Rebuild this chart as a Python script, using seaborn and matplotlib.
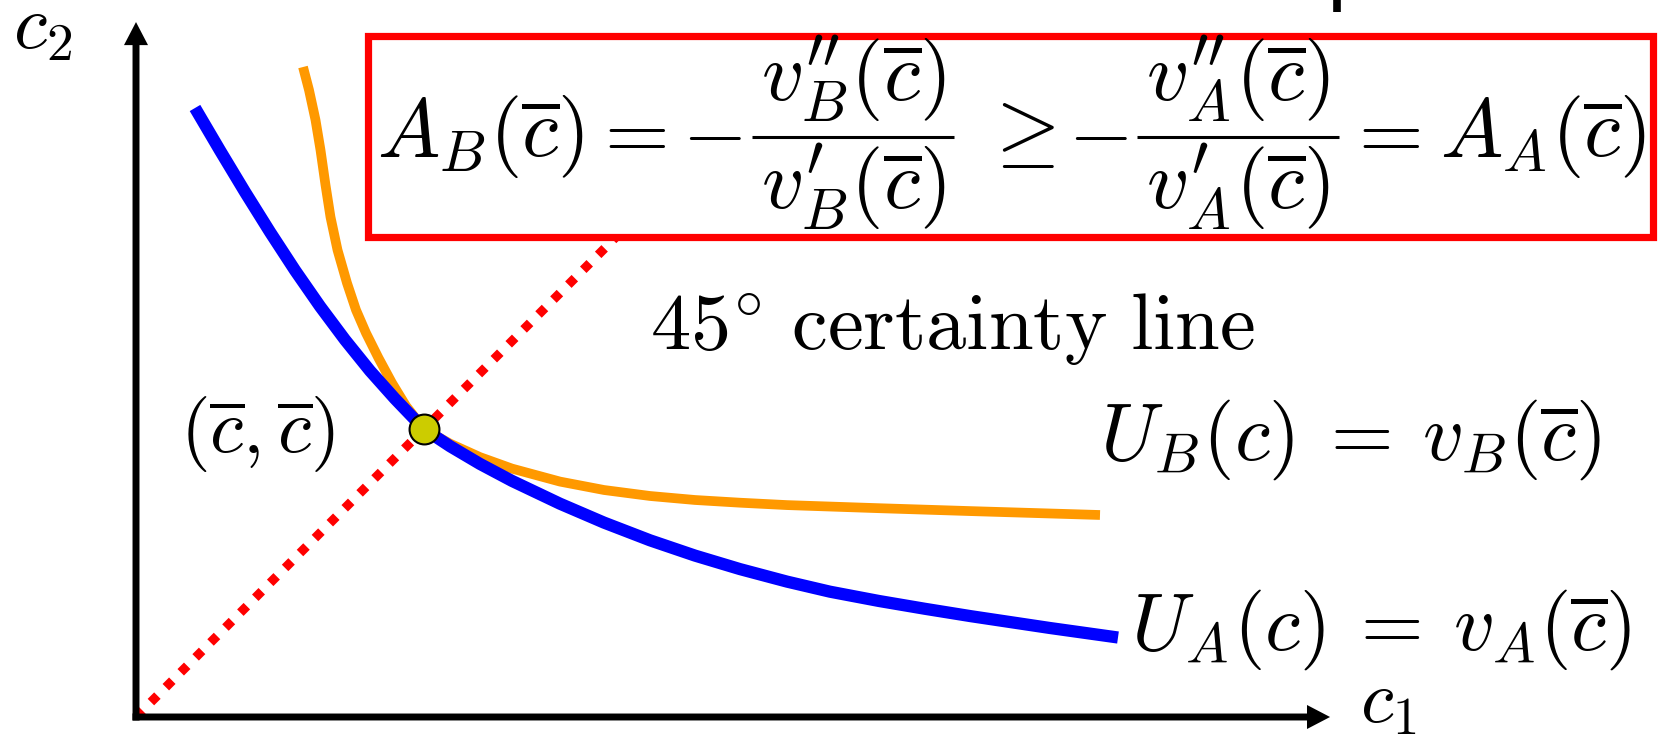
import numpy as np
import pandas as pd
import matplotlib
matplotlib.use("Agg")
import matplotlib.pyplot as plt
from matplotlib.patches import Rectangle, FancyArrowPatch
import seaborn as sns

# Consumption at the certainty point (c_bar, c_bar)
c_bar = 1.0

# Indifference curve of agent A: U_A(c) = v_A(c_bar)
blue_c1 = [0.2049, 0.2917, 0.3785, 0.4653, 0.5521, 0.6389, 0.7257, 0.8125, 0.8993, 1.0000,
           1.0903, 1.1944, 1.3056, 1.4722, 1.6250, 1.7847, 1.9410, 2.0972, 2.2604, 2.4097,
           2.5799, 2.7396, 2.8993, 3.1736, 3.4097]
blue_c2 = [2.1146, 1.9670, 1.8229, 1.6840, 1.5510, 1.4260, 1.3097, 1.2021, 1.1049, 1.0000,
           0.9403, 0.8788, 0.8198, 0.7406, 0.6750, 0.6135, 0.5604, 0.5135, 0.4701, 0.4351,
           0.4028, 0.3757, 0.3500, 0.3090, 0.2760]

# Indifference curve of agent B (more risk averse): U_B(c) = v_B(c_bar)
orange_c1 = [0.5799, 0.6007, 0.6233, 0.6406, 0.6580, 0.6753, 0.6997, 0.7326, 0.7639, 0.7986,
             0.8420, 0.8889, 0.9375, 1.0000, 1.0903, 1.1944, 1.3056, 1.4722, 1.6250, 1.7847,
             1.9410, 2.0972, 2.2604, 2.5799, 2.8993, 3.3472]
orange_c2 = [2.2569, 2.1771, 2.0729, 1.9688, 1.8472, 1.7361, 1.6215, 1.5069, 1.4132, 1.3333,
             1.2465, 1.1597, 1.0799, 1.0000, 0.9493, 0.9024, 0.8625, 0.8174, 0.7882, 0.7674,
             0.7535, 0.7441, 0.7358, 0.7250, 0.7149, 0.7014]

# 45-degree certainty line c1 = c2
certainty = [0.0, c_bar, 2.0]

# Axis extents
c1_max = 4.146
c2_max = 2.413

sns.set_theme(style="white")
plt.rcParams["mathtext.fontset"] = "cm"
plt.rcParams["font.family"] = ["DejaVu Sans"]
plt.rcParams["text.color"] = "black"

PX = 288.0  # pixels per unit of consumption
fig = plt.figure(figsize=(16.62, 7.34), dpi=100)
ax = fig.add_axes([0, 0, 1, 1])
ax.set_xlim(-136 / PX, (1662 - 136) / PX)
ax.set_ylim((717 - 734) / PX, 717 / PX)
ax.axis("off")


def px(x, y):
    """Figure pixel position (from top-left) to data coordinates."""
    return (x - 136) / PX, (717 - y) / PX


df_a = pd.DataFrame({"c1": blue_c1, "c2": blue_c2})
df_b = pd.DataFrame({"c1": orange_c1, "c2": orange_c2})
df_cert = pd.DataFrame({"c1": certainty, "c2": certainty})

sns.lineplot(data=df_b, x="c1", y="c2", sort=False, color="#ff9900", lw=7.0,
             solid_capstyle="butt", solid_joinstyle="round", ax=ax, zorder=2)
sns.lineplot(data=df_a, x="c1", y="c2", sort=False, color="#0000ff", lw=8.8,
             solid_capstyle="butt", solid_joinstyle="round", ax=ax, zorder=3)
sns.lineplot(data=df_cert, x="c1", y="c2", sort=False, color="#ff0000", lw=6.6,
             ax=ax, zorder=4)
ax.lines[-1].set_linestyle((0, (1.0, 1.3)))
ax.lines[-1].set_dash_capstyle("butt")

# Certainty point
ax.plot([c_bar], [c_bar], marker="o", ms=21.5, mfc="#cccc00", mec="black",
        mew=1.5, ls="none", zorder=6)

# Axes with arrow heads
t = 3.5 / PX
for start, end in [((0, -t), (0, c2_max)), ((-t, 0), (c1_max, 0))]:
    ax.add_patch(FancyArrowPatch(start, end,
                                 arrowstyle="simple,head_length=1.66,head_width=1.73,tail_width=0.5",
                                 mutation_scale=10, color="black", lw=0,
                                 shrinkA=0, shrinkB=0, zorder=5))

# Framed risk-aversion comparison, typeset piece by piece
x0, y0 = px(367.5, 236.5)
ax.add_patch(Rectangle((x0, y0), (1652.5 - 367.5) / PX, (236.5 - 36.5) / PX,
                       facecolor="white", edgecolor="#ff0000", lw=5.2, zorder=7))

EQ = dict(fontsize=60, va="baseline", zorder=8, color="black")
ax.text(*px(377, 157), r"$A_B(\overline{c})$", ha="left", **EQ)
ax.text(*px(628, 157), r"$=$", ha="center", **EQ)
ax.text(*px(712, 157), r"$-$", ha="center", **EQ)
ax.text(*px(1018, 157), r"$\geq$", ha="center", **EQ)
ax.text(*px(1098, 157), r"$-$", ha="center", **EQ)
ax.text(*px(1382, 157), r"$=$", ha="center", **EQ)
ax.text(*px(1646, 157), r"$A_A(\overline{c})$", ha="right", **EQ)

for sub, (xa, xb) in [("B", (752, 954)), ("A", (1137, 1339))]:
    xm = (xa + xb) / 2
    ax.text(*px(xm, 101), r"$v^{\prime\prime}_%s(\overline{c})$" % sub, ha="center", **EQ)
    ax.text(*px(xm, 209), r"$v^{\prime}_%s(\overline{c})$" % sub, ha="center", **EQ)
    (bx0, by), (bx1, _) = px(xa, 137), px(xb, 137)
    ax.plot([bx0, bx1], [by, by], color="black", lw=2.2, solid_capstyle="butt", zorder=8)

# Labels
ax.text(*px(13, 48), r"$c_2$", fontsize=55, ha="left", va="baseline")
ax.text(*px(1360, 722), r"$c_1$", fontsize=54, ha="left", va="baseline")
ax.text(*px(650, 350), r"$\mathrm{45^{\circ}\ certainty\ line}$",
        fontsize=58, ha="left", va="baseline")
ax.text(*px(180, 453), r"$(\overline{c},\overline{c})$",
        fontsize=55, ha="left", va="baseline")
ax.text(*px(1100, 460), r"$U_B(c)\:=\:v_B(\overline{c})$",
        fontsize=58, ha="left", va="baseline")
ax.text(*px(1131, 650), r"$U_A(c)\:=\:v_A(\overline{c})$",
        fontsize=58, ha="left", va="baseline")

# Short stroke at the top edge
sx, sy = px(1337, 12)
ax.plot([sx, sx], [sy, 717 / PX], color="black", lw=5.5, solid_capstyle="butt")

fig.savefig("out.png", dpi=100)
